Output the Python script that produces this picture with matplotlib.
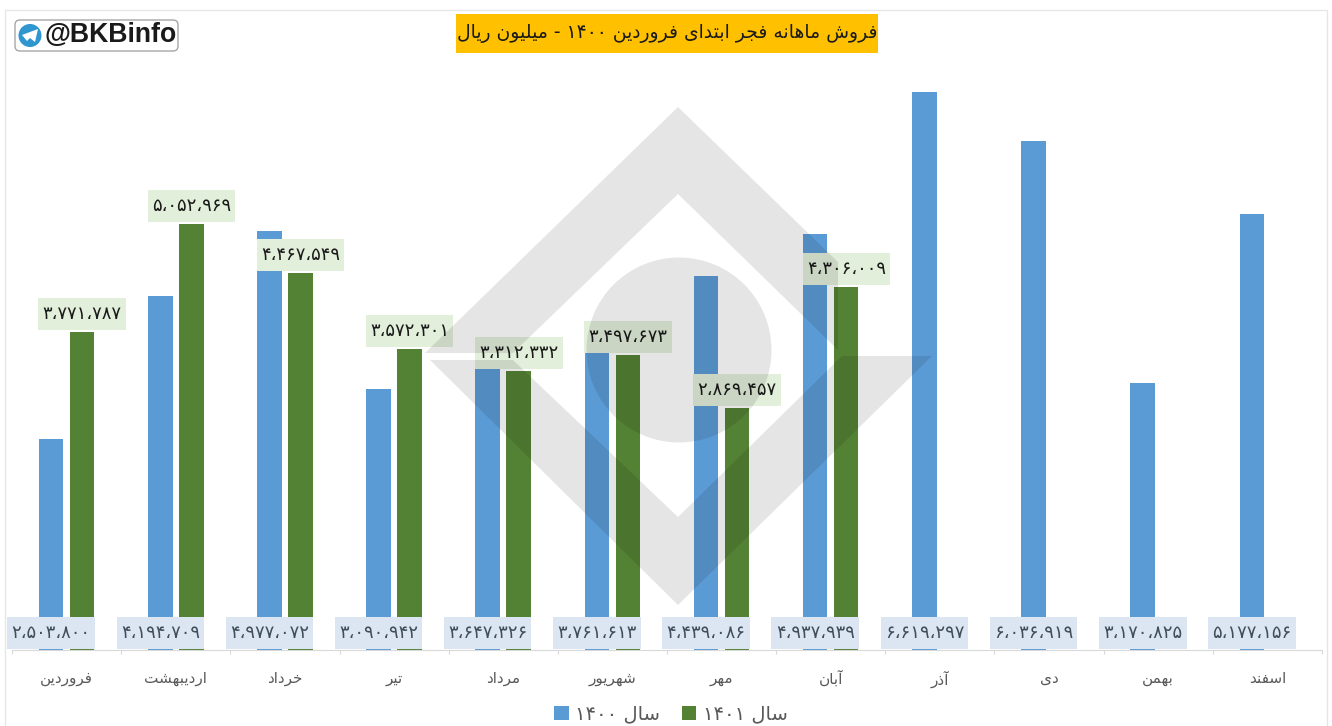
import re
import matplotlib
matplotlib.use('Agg')
import matplotlib.pyplot as plt
from matplotlib.patches import Rectangle, Polygon, Circle, FancyBboxPatch
from matplotlib.transforms import Affine2D

plt.rcParams['font.family'] = ['DejaVu Sans']

# data
months = ['فروردین', 'اردیبهشت', 'خرداد', 'تیر', 'مرداد', 'شهریور',
          'مهر', 'آبان', 'آذر', 'دی', 'بهمن', 'اسفند']
sales_1400 = [2503800, 4194709, 4977072, 3090942, 3647326, 3761613,
              4439086, 4937939, 6619297, 6036919, 3170825, 5177156]
sales_1401 = [3771787, 5052969, 4467549, 3572301, 3312332, 3497673,
              2869457, 4306009]
title = 'فروش ماهانه فجر ابتدای فروردین ۱۴۰۰ - میلیون ریال'
legend_labels = ['سال ۱۴۰۰', 'سال ۱۴۰۱']
channel = '@BKBinfo'

# matplotlib does not shape arabic, so pick the joined glyph forms by hand
# letter: (isolated, final, initial, medial)
FORMS = {
    'آ': (0xFE81, 0xFE82), 'ا': (0xFE8D, 0xFE8E),
    'ب': (0xFE8F, 0xFE90, 0xFE91, 0xFE92), 'ت': (0xFE95, 0xFE96, 0xFE97, 0xFE98),
    'ج': (0xFE9D, 0xFE9E, 0xFE9F, 0xFEA0), 'خ': (0xFEA5, 0xFEA6, 0xFEA7, 0xFEA8),
    'د': (0xFEA9, 0xFEAA), 'ذ': (0xFEAB, 0xFEAC), 'ر': (0xFEAD, 0xFEAE),
    'س': (0xFEB1, 0xFEB2, 0xFEB3, 0xFEB4), 'ش': (0xFEB5, 0xFEB6, 0xFEB7, 0xFEB8),
    'ف': (0xFED1, 0xFED2, 0xFED3, 0xFED4), 'ل': (0xFEDD, 0xFEDE, 0xFEDF, 0xFEE0),
    'م': (0xFEE1, 0xFEE2, 0xFEE3, 0xFEE4), 'ن': (0xFEE5, 0xFEE6, 0xFEE7, 0xFEE8),
    'ه': (0xFEE9, 0xFEEA, 0xFEEB, 0xFEEC), 'و': (0xFEED, 0xFEEE),
    'ی': (0xFBFC, 0xFBFD, 0xFBFE, 0xFBFF),
}


def fa(text):
    out = []
    for i, ch in enumerate(text):
        if ch not in FORMS:
            out.append(ch)
            continue
        prev = text[i - 1] if i > 0 else ''
        nxt = text[i + 1] if i + 1 < len(text) else ''
        joins_prev = prev in FORMS and len(FORMS[prev]) == 4
        joins_next = nxt in FORMS and len(FORMS[ch]) == 4
        f = FORMS[ch]
        if joins_prev and joins_next:
            out.append(chr(f[3]))
        elif joins_prev:
            out.append(chr(f[1]))
        elif joins_next:
            out.append(chr(f[2]))
        else:
            out.append(chr(f[0]))
    visual = ''.join(out)[::-1]
    return re.sub('[۰-۹]+', lambda m: m.group(0)[::-1], visual)


def fa_number(v):
    digits = f'{v:,}'.replace(',', '،')
    return digits.translate(str.maketrans('0123456789', '۰۱۲۳۴۵۶۷۸۹'))


W, H = 1332, 726
fig = plt.figure(figsize=(W / 100, H / 100), dpi=100, facecolor='white')
ax = fig.add_axes([12 / W, (H - 650) / H, 1310 / W, 590 / H])
px = Affine2D().scale(1, -1).translate(0, H)  # image pixels for decoration

ax.set_xlim(0, len(months))
ax.set_ylim(0, 7000000)
unit_x = len(months) / 1310
unit_y = 7000000 / 590

offset, bar_w = 15.5 * unit_x, 24.5 * unit_x
x1400 = [i + 0.5 - offset for i in range(len(sales_1400))]
x1401 = [i + 0.5 + offset for i in range(len(sales_1401))]
bars_a = ax.bar(x1400, sales_1400, bar_w, color='#5b9bd5', zorder=2)
bars_b = ax.bar(x1401, sales_1401, bar_w, color='#548235', zorder=2)

# value labels sit in fixed size boxes
box_w, box_h = 87.5 * unit_x, 32 * unit_y
for x, v in zip(x1400, sales_1400):
    ax.add_patch(Rectangle((x - box_w / 2, unit_y), box_w, box_h, fc='#dce6f2',
                           lw=0, zorder=3, clip_on=False))
    ax.text(x, unit_y + box_h / 2, fa_number(v), ha='center', va='center',
            fontsize=13, color='#3f4d5c', zorder=4)
for x, v in zip(x1401, sales_1401):
    y0 = v + 2 * unit_y
    ax.add_patch(Rectangle((x - box_w / 2, y0), box_w, box_h, fc='#e2efda',
                           lw=0, zorder=3, clip_on=False))
    ax.text(x, y0 + box_h / 2, fa_number(v), ha='center', va='center',
            fontsize=13, color='#1a1a1a', zorder=4)

# axis
for side in ['top', 'left', 'right']:
    ax.spines[side].set_visible(False)
ax.spines['bottom'].set_color('#d9d9d9')
ax.set_yticks([])
ax.set_xticks(range(len(months) + 1))
ax.set_xticklabels([])
ax.tick_params(axis='x', length=3, color='#d9d9d9')
ax.set_xticks([i + 0.5 for i in range(len(months))], minor=True)
ax.set_xticklabels([fa(m) for m in months], minor=True, fontsize=11, color='#595959')
ax.tick_params(axis='x', which='minor', length=0, pad=15)

# legend
fig.legend([bars_a, bars_b], [fa(t) for t in legend_labels], ncol=2, frameon=False,
           loc='center', bbox_to_anchor=(671 / W, 1 - 714 / H), fontsize=14,
           labelcolor='#595959', handlelength=0.75, handleheight=0.75,
           handletextpad=0.35, columnspacing=1.1)

# outer frame of the screenshot
fig.add_artist(Polygon([(5, 726), (5, 10), (1327, 10), (1327, 726)], closed=False,
                       fill=False, ec='#e6e6e6', lw=1, transform=px))

# title band
fig.add_artist(Rectangle((456, 14), 422, 39, color='#ffc000', lw=0, transform=px, zorder=2))
fig.text(667, 33.5, fa(title), transform=px, ha='center', va='center', fontsize=13.5,
         color='#1a1a1a', zorder=3)

# channel tag
fig.add_artist(FancyBboxPatch((18, 23), 157, 25, boxstyle='round,pad=3,rounding_size=5',
                              fc='white', ec='#a6a6a6', lw=1, transform=px, zorder=2))
fig.add_artist(Circle((30, 35.5), 11.5, color='#2f96d0', lw=0, transform=px, zorder=3))
fig.add_artist(Polygon([(22, 35), (38, 29), (35, 42), (30, 38), (27, 41)], color='white',
                       lw=0, transform=px, zorder=4))
fig.text(44, 35.5, channel, transform=px, ha='left', va='center', fontsize=19.2,
         fontweight='bold', family='Liberation Sans', color='#1a1a1a', zorder=3)

# watermark over everything
mark = dict(color='black', alpha=0.1, lw=0, transform=px, zorder=6)
fig.add_artist(Polygon([(425, 353), (678, 107), (838, 262), (838, 350), (678, 194), (513, 353)], **mark))
fig.add_artist(Polygon([(430, 360), (678, 605), (932, 356), (842, 356), (678, 517), (513, 360)], **mark))
fig.add_artist(Circle((679, 350), 92.5, **mark))

fig.savefig('out.png', dpi=100)
